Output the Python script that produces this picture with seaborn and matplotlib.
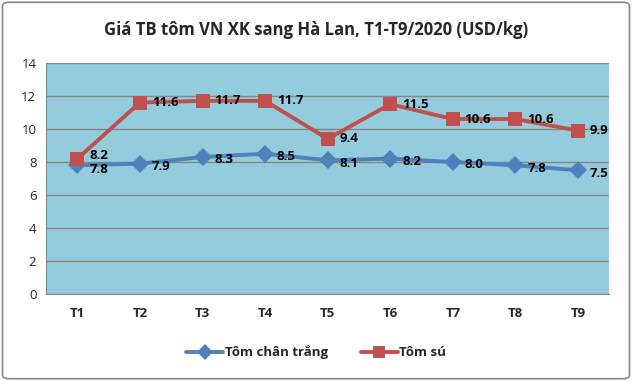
import pandas as pd
import numpy as np
import matplotlib
matplotlib.use("Agg")
import matplotlib.pyplot as plt
import seaborn as sns
from matplotlib.patches import FancyBboxPatch

# data
months = ['T1', 'T2', 'T3', 'T4', 'T5', 'T6', 'T7', 'T8', 'T9']
chan_trang = [7.8, 7.9, 8.3, 8.5, 8.1, 8.2, 8.0, 7.8, 7.5]
tom_su = [8.2, 11.6, 11.7, 11.7, 9.4, 11.5, 10.6, 10.6, 9.9]
series_names = ['Tôm chân trắng', 'Tôm sú']

df = pd.DataFrame({
    'month': months * 2,
    'price': chan_trang + tom_su,
    'series': [series_names[0]] * len(months) + [series_names[1]] * len(months),
})
df['pos'] = df['month'].map({m: i for i, m in enumerate(months)})

sns.set_style("white")
plt.rcParams['font.family'] = ['Open Sans', 'DejaVu Sans']

colors = {series_names[0]: '#4F81BD', series_names[1]: '#C0504D'}
markers = {series_names[0]: 'D', series_names[1]: 's'}

fig = plt.figure(figsize=(6.32, 3.81), dpi=100)
ax = fig.add_axes([0.073, 0.228, 0.891, 0.607])
ax.set_facecolor('#93CDDD')

sns.lineplot(data=df, x='pos', y='price', hue='series', style='series',
             palette=colors, markers=markers, dashes=False, linewidth=2.8,
             markersize=9.5, markeredgewidth=0, ax=ax, legend=False)

# data labels
for name, vals in zip(series_names, [chan_trang, tom_su]):
    for i, v in enumerate(vals):
        dy = -2 if name == series_names[0] else 0
        if i == 0:
            dy = -3 if name == series_names[0] else 2
        ax.annotate(f'{v:.1f}', (i, v), xytext=(8.5, dy), textcoords='offset points',
                    ha='left', va='center', fontsize=9.5, fontweight='bold', color='black')

ax.set_xlim(-0.5, len(months) - 0.5)
ax.set_ylim(0, 14)
ax.set_yticks(np.arange(0, 15, 2))
ax.set_xticks(range(len(months)))
ax.set_xticklabels(months, fontweight='bold', fontsize=9.5)
ax.set_xticks(np.arange(-0.5, len(months), 1), minor=True)
ax.tick_params(axis='x', which='major', length=0, pad=9)
ax.tick_params(axis='x', which='minor', length=4, color='#868686', direction='out')
ax.tick_params(axis='y', length=4, color='#868686', direction='out', labelsize=9.5, pad=3)
ax.yaxis.grid(True, color='#868686', linewidth=1)
ax.set_axisbelow(True)
for side in ['top', 'right']:
    ax.spines[side].set_visible(False)
for side in ['left', 'bottom']:
    ax.spines[side].set_color('#868686')
ax.set_xlabel('')
ax.set_ylabel('')

fig.text(0.5, 0.922, 'Giá TB tôm VN XK sang Hà Lan, T1-T9/2020 (USD/kg)',
         ha='center', va='center', fontsize=12, fontweight='bold')

handles = [plt.Line2D([], [], color=colors[n], marker=markers[n], linewidth=2.8,
                      markersize=8.5, markeredgewidth=0) for n in series_names]
fig.legend(handles, series_names, loc='center', bbox_to_anchor=(0.5, 0.075), ncol=2,
           frameon=False, prop={'weight': 'bold', 'size': 9.5}, handlelength=2.8,
           handletextpad=0.1, columnspacing=2.5)

border = FancyBboxPatch((0.004, 0.006), 0.992, 0.988, boxstyle='round,pad=0,rounding_size=0.01',
                        transform=fig.transFigure, fill=False, edgecolor='#868686', linewidth=1.2)
fig.patches.append(border)

fig.savefig('out.png', dpi=100)
